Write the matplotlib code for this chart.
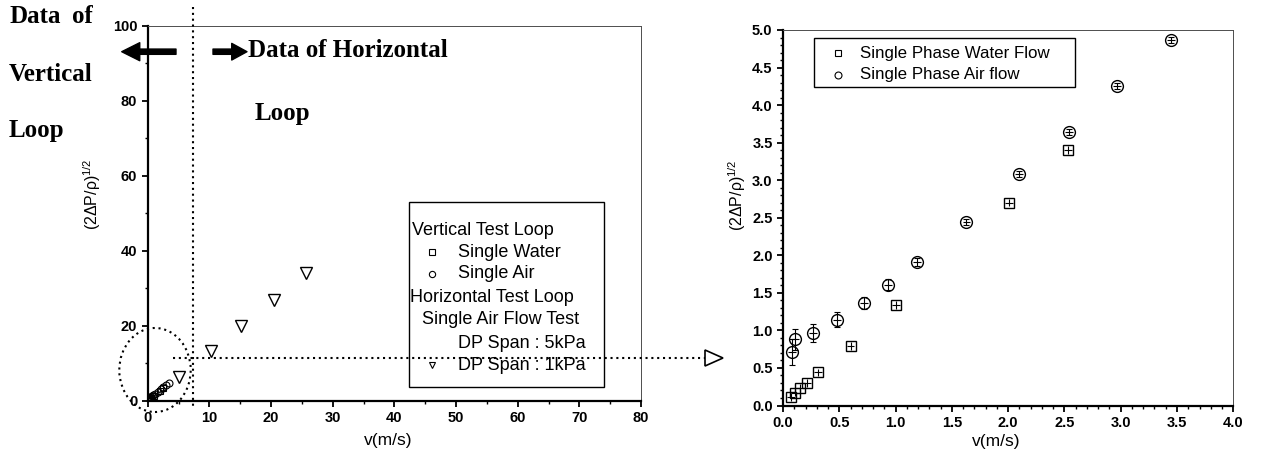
import matplotlib
matplotlib.use("Agg")
import matplotlib.pyplot as plt
from matplotlib.lines import Line2D
from matplotlib.patches import Ellipse, Rectangle, Polygon
from matplotlib.ticker import MultipleLocator

plt.rcParams['font.family'] = ['Liberation Sans', 'DejaVu Sans']
plt.rcParams['mathtext.fontset'] = 'custom'
plt.rcParams['mathtext.rm'] = 'Liberation Sans'

# vertical loop, single phase water (right panel, also shown near origin on the left)
water_v = [0.07, 0.11, 0.15, 0.21, 0.31, 0.60, 1.00, 2.01, 2.53]
water_dp = [0.11, 0.17, 0.23, 0.30, 0.44, 0.79, 1.34, 2.70, 3.40]
# vertical loop, single phase air
air_v = [0.08, 0.11, 0.27, 0.48, 0.72, 0.93, 1.19, 1.63, 2.10, 2.54, 2.97, 3.45]
air_dp = [0.71, 0.88, 0.97, 1.14, 1.37, 1.61, 1.91, 2.45, 3.08, 3.64, 4.25, 4.87]
air_err = [0.17, 0.14, 0.12, 0.10, 0.08, 0.07, 0.05, 0.04, 0.04, 0.04, 0.04, 0.04]
# horizontal loop, single air, DP span 1 kPa
horiz_v = [5.1, 10.2, 15.2, 20.5, 25.7]
horiz_dp = [6.5, 13.4, 20.0, 27.0, 34.0]

left_xticks = [0, 10, 20, 30, 40, 50, 60, 70, 80]
left_yticks = [0, 20, 40, 60, 80, 100]
right_xticks = [0.0, 0.5, 1.0, 1.5, 2.0, 2.5, 3.0, 3.5, 4.0]
right_yticks = [0.0, 0.5, 1.0, 1.5, 2.0, 2.5, 3.0, 3.5, 4.0, 4.5, 5.0]

ylab = '(2ΔP/ρ)$^{\\mathrm{1/2}}$'

W, H = 1284, 454
fig = plt.figure(figsize=(W / 100, H / 100), dpi=100)


def fx(x):
    return x / W


def fy(y):
    return 1 - y / H


def style(ax, xt, yt, xfmt, yfmt):
    for s in ['left', 'bottom']:
        ax.spines[s].set_linewidth(1.6)
    for s in ['top', 'right']:
        ax.spines[s].set_linewidth(0.7)
        ax.spines[s].set_color('0.3')
    ax.set_xticks(xt)
    ax.set_xticklabels([xfmt.format(t) for t in xt], fontweight='bold')
    ax.set_yticks(yt)
    ax.set_yticklabels([yfmt.format(t) for t in yt], fontweight='bold')
    ax.tick_params(which='both', direction='out', top=False, right=False)
    ax.tick_params(which='major', length=4.5, width=1.3, labelsize=10.5, pad=3)
    ax.tick_params(which='minor', length=2.5, width=1)


ax1 = fig.add_axes([fx(147.7), fy(401), (641 - 147.7) / W, (401 - 25.7) / H])
ax2 = fig.add_axes([fx(783), fy(405.5), (1233.3 - 783) / W, (405.5 - 30) / H])

# left panel
ax1.plot(water_v, water_dp, 's', ms=5, mfc='none', mec='k', mew=0.8)
ax1.plot(air_v, air_dp, 'o', ms=5, mfc='none', mec='k', mew=0.8)
ax1.plot(horiz_v, horiz_dp, 'v', ms=8, mfc='none', mec='k', mew=1)
ax1.set_xlim(0, 80)
ax1.set_ylim(0, 100)
style(ax1, left_xticks, left_yticks, '{:d}', '{:d}')
ax1.xaxis.set_minor_locator(MultipleLocator(5))
ax1.yaxis.set_minor_locator(MultipleLocator(10))
ax1.set_xlabel('v(m/s)', fontsize=12.5)
ax1.xaxis.set_label_coords(0.487, -0.104)
ax1.xaxis.label.set_va('center')
ax1.set_ylabel(ylab, fontsize=11.5)
ax1.yaxis.set_label_coords(-0.113, 0.55)
ax1.yaxis.label.set_va('center')

# right panel
ax2.errorbar(water_v, water_dp, xerr=0.035, yerr=0.05, fmt='s', ms=7, mfc='none',
             mec='k', mew=1, ecolor='k', elinewidth=0.8, capsize=0, clip_on=False)
ax2.errorbar(air_v, air_dp, xerr=0.035, fmt='o', ms=8.5, mfc='none',
             mec='k', mew=1, ecolor='k', elinewidth=0.8, capsize=0, clip_on=False)
ax2.errorbar(air_v, air_dp, yerr=air_err, fmt='none', ecolor='k',
             elinewidth=0.8, capsize=2, capthick=0.8)
ax2.set_xlim(0, 4)
ax2.set_ylim(0, 5)
style(ax2, right_xticks, right_yticks, '{:.1f}', '{:.1f}')
ax2.xaxis.set_minor_locator(MultipleLocator(0.1))
ax2.yaxis.set_minor_locator(MultipleLocator(0.1))
ax2.set_xlabel('v(m/s)', fontsize=12.5)
ax2.xaxis.set_label_coords(0.474, -0.096)
ax2.xaxis.label.set_va('center')
ax2.set_ylabel(ylab, fontsize=11.5)
ax2.yaxis.set_label_coords(-0.102, 0.56)
ax2.yaxis.label.set_va('center')

# annotations
dot = (0, (1, 1.8))
fig.add_artist(Line2D([fx(193.3)] * 2, [fy(7), fy(408)], transform=fig.transFigure,
                      ls=dot, lw=1.5, color='k'))
fig.add_artist(Line2D([fx(173), fx(705)], [fy(357.5)] * 2, transform=fig.transFigure,
                      ls=dot, lw=1.5, color='k'))
fig.add_artist(Polygon([[fx(705), fy(350)], [fx(723), fy(358)], [fx(705), fy(366)]],
                       closed=True, fill=False, lw=1.2, ec='k', transform=fig.transFigure))
fig.add_artist(Ellipse((fx(155), fy(370)), 2 * 35.7 / W, 2 * 42 / H, transform=fig.transFigure,
                       fill=False, ls=dot, lw=1.5, ec='k'))

ax1.annotate('', xy=(fx(121.7), fy(51.7)), xycoords='figure fraction',
             xytext=(fx(176), fy(51.7)), textcoords='figure fraction',
             arrowprops=dict(width=3.8, headwidth=13, headlength=13, color='k'),
             annotation_clip=False)
ax1.annotate('', xy=(fx(247), fy(51.7)), xycoords='figure fraction',
             xytext=(fx(213), fy(51.7)), textcoords='figure fraction',
             arrowprops=dict(width=3.8, headwidth=12, headlength=11, color='k'),
             annotation_clip=False)

serif = dict(fontfamily='Liberation Serif', fontweight='bold', fontsize=18, va='baseline')
fig.text(fx(9), fy(23), 'Data', **serif)
fig.text(fx(93), fy(23), 'of', ha='right', **serif)
fig.text(fx(9), fy(81), 'Vertical', **serif)
fig.text(fx(9), fy(137), 'Loop', **serif)
fig.text(fx(248), fy(57), 'Data of Horizontal', **serif)
fig.text(fx(255), fy(120), 'Loop', **serif)

# left legend
fig.add_artist(Rectangle((fx(409.3), fy(386.7)), (604 - 409.3) / W, (386.7 - 201.7) / H,
                         transform=fig.transFigure, fill=False, lw=1, ec='k'))
rows = [(412, 230, 'Vertical Test Loop', None),
        (458, 252.3, 'Single Water', 's'),
        (458, 274, 'Single Air', 'o'),
        (410, 298, 'Horizontal Test Loop', None),
        (422, 320, 'Single Air Flow Test', None),
        (458, 343, 'DP Span : 5kPa', None),
        (458, 365, 'DP Span : 1kPa', 'v')]
for x, y, t, m in rows:
    fig.text(fx(x), fy(y), t, fontsize=13, va='center')
    if m:
        fig.add_artist(Line2D([fx(431.7)], [fy(y)], marker=m, ms=4.5, mfc='none', mec='k',
                              mew=0.8, ls='none', transform=fig.transFigure))

# right legend
fig.add_artist(Rectangle((fx(814), fy(87.3)), (1075 - 814) / W, (87.3 - 38.3) / H,
                         transform=fig.transFigure, fill=False, lw=1, ec='k'))
for y, t, m in [(53.3, 'Single Phase Water Flow', 's'), (75, 'Single Phase Air flow', 'o')]:
    fig.text(fx(860), fy(y), t, fontsize=12.2, va='center')
    fig.add_artist(Line2D([fx(838)], [fy(y)], marker=m, ms=5, mfc='none', mec='k',
                          mew=0.8, ls='none', transform=fig.transFigure))

fig.savefig('out.png', dpi=100)
